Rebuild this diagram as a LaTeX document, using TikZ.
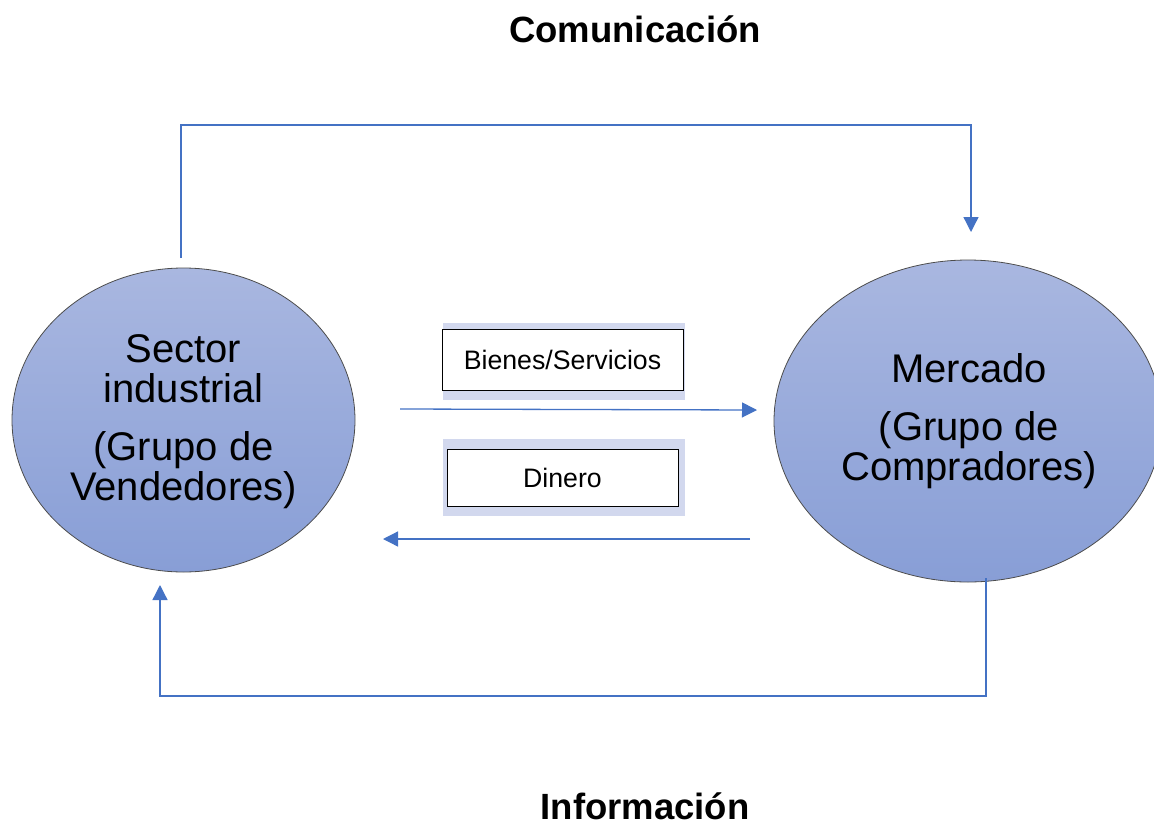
\documentclass[tikz,border=0pt]{standalone}
\usepackage{fontspec}
\setmainfont{Liberation Sans}
\usetikzlibrary{arrows.meta,shapes.geometric}
\definecolor{flowblue}{HTML}{4472C4}
\definecolor{ovaltop}{HTML}{A9B7E0}
\definecolor{ovalbot}{HTML}{889ED6}
\definecolor{panel}{HTML}{D2D8EE}
\tikzset{
  oval/.style={ellipse, draw=black!70, line width=0.8pt, top color=ovaltop, bottom color=ovalbot, inner sep=0pt},
  ovaltext/.style={align=center, font=\fontsize{40}{40}\selectfont, inner sep=0pt},
  flow/.style={draw=flowblue, line width=1.3pt, -{Triangle[length=15pt,width=15pt]}},
  panelbg/.style={fill=panel, draw=none, minimum width=242pt, minimum height=77pt, inner sep=0pt},
  labelbox/.style={fill=white, draw=black, line width=1pt, inner sep=0pt, font=\fontsize{26.7}{30}\selectfont},
  heading/.style={font=\bfseries\fontsize{36.5}{40}\selectfont, inner sep=0pt}
}
\begin{document}
\begin{tikzpicture}[x=1pt,y=-1pt]
\useasboundingbox (0,0) rectangle (1154,825);
\clip (0,0) rectangle (1154,825);

% headings
\node[heading] (com) at (635,29) {Comunicación};
\node[heading] (inf) at (645,806) {Información};

% the two actors
\node[oval, minimum width=343pt, minimum height=304pt] (sv) at (183.5,420) {};
\node[ovaltext] (svt) at (183.5,422) {Sector\\industrial\\[18pt](Grupo de\\Vendedores)};
\node[oval, minimum width=388pt, minimum height=322pt] (mk) at (968,421) {};
\node[ovaltext] (mkt) at (969,421) {Mercado\\[18pt](Grupo de\\Compradores)};

% labels of the exchanges
\node[panelbg] (bsbg) at (564,361.5) {};
\node[labelbox, minimum width=241pt, minimum height=61pt] (bs) at (562.5,359.5) {Bienes/Servicios};
\node[panelbg] (dnbg) at (564,477.5) {};
\node[labelbox, minimum width=231pt, minimum height=57pt] (dn) at (562.5,477.5) {Dinero};

% goods and money
\coordinate (g1) at (400,409);
\coordinate (g2) at (757,410);
\draw[flow] (g1) -- (g2);
\coordinate (m1) at (750,539);
\coordinate (m2) at (383,539);
\draw[flow] (m1) -- (m2);

% communication loop (top)
\coordinate (c1) at (181,258);
\coordinate (c2) at (971,232);
\draw[flow] (c1) -- (181,125) -| (c2);

% information loop (bottom)
\coordinate (i1) at (986,578);
\coordinate (i2) at (160,585);
\draw[flow] (i1) -- (986,696) -| (i2);
\end{tikzpicture}
\end{document}
